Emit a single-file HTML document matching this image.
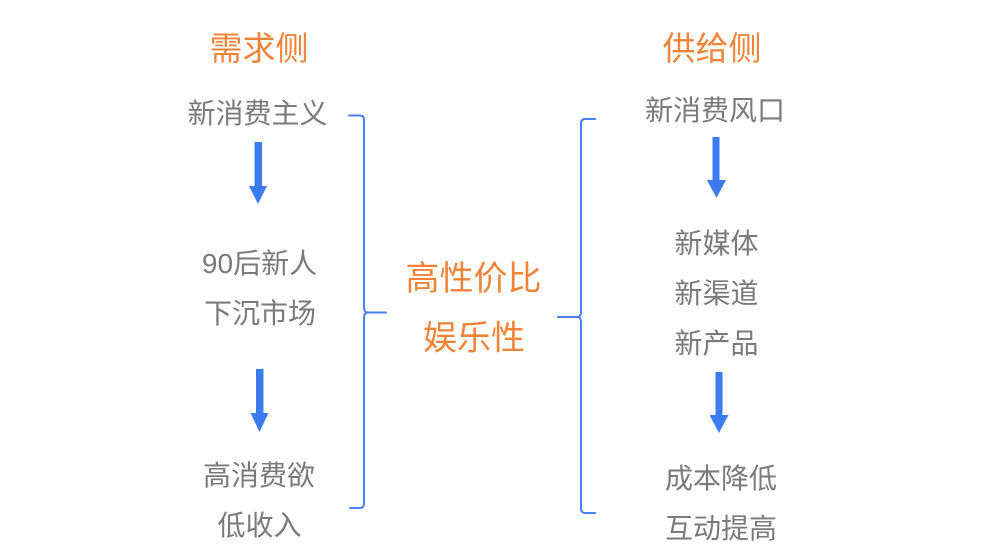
<!DOCTYPE html>
<html><head><meta charset="utf-8"><style>
html,body{margin:0;padding:0;background:#fff;}
svg{display:block;}
text{font-family:"Liberation Sans","Noto Sans CJK SC",sans-serif;}
.g{fill:#7a7a7a;font-size:28px;}
.o{fill:#ef8439;}
</style></head><body>
<svg width="1000" height="556" viewBox="0 0 1000 556" xmlns="http://www.w3.org/2000/svg">
<rect width="1000" height="556" fill="#fff"/>
<!-- titles -->
<text class="o" x="259" y="60" font-size="33" text-anchor="middle">需求侧</text>
<text class="o" x="712" y="60" font-size="33" text-anchor="middle">供给侧</text>
<!-- left column -->
<text class="g" x="257.5" y="123" text-anchor="middle">新消费主义</text>
<text class="g" x="259.5" y="273" text-anchor="middle">90后新人</text>
<text class="g" x="260" y="323" text-anchor="middle">下沉市场</text>
<text class="g" x="259" y="485" text-anchor="middle">高消费欲</text>
<text class="g" x="259.5" y="535" text-anchor="middle">低收入</text>
<!-- right column -->
<text class="g" x="715" y="120" text-anchor="middle">新消费风口</text>
<text class="g" x="716.5" y="253" text-anchor="middle">新媒体</text>
<text class="g" x="716.5" y="303" text-anchor="middle">新渠道</text>
<text class="g" x="716.5" y="353" text-anchor="middle">新产品</text>
<text class="g" x="721" y="488" text-anchor="middle">成本降低</text>
<text class="g" x="721" y="538" text-anchor="middle">互动提高</text>
<!-- center -->
<text class="o" x="473.5" y="290" font-size="34" text-anchor="middle">高性价比</text>
<text class="o" x="474" y="349.5" font-size="34" text-anchor="middle">娱乐性</text>
<!-- arrows -->
<g fill="#3d7cf0">
<rect x="254.5" y="142" width="7.5" height="45"/>
<polygon points="249,186 267,186 258,204"/>
<rect x="256" y="369" width="7.5" height="45"/>
<polygon points="250.5,413 268.5,413 259.5,432"/>
<rect x="712.5" y="137" width="7" height="44"/>
<polygon points="707,180 726,180 716.5,198"/>
<rect x="715.5" y="372" width="7" height="44"/>
<polygon points="709.5,415 728.5,415 719,433"/>
</g>
<!-- brackets -->
<g fill="none" stroke="#4a80f0" stroke-width="2" stroke-linecap="round" stroke-linejoin="round">
<path d="M349,115.5 L360,115.5 Q364,115.5 364,120 L364,307 Q364,312.5 368,312.5 L386,312.5 M368,312.5 Q364,312.5 364,318 L364,503 Q364,508 360,508 L350,508"/>
<path d="M595,119 L585,119 Q581,119 581,124 L581,312 Q581,317 577,317 L558,317 M577,317 Q581,317 581,322 L581,508 Q581,513 585,513 L595,513"/>
</g>
</svg>
</body></html>
